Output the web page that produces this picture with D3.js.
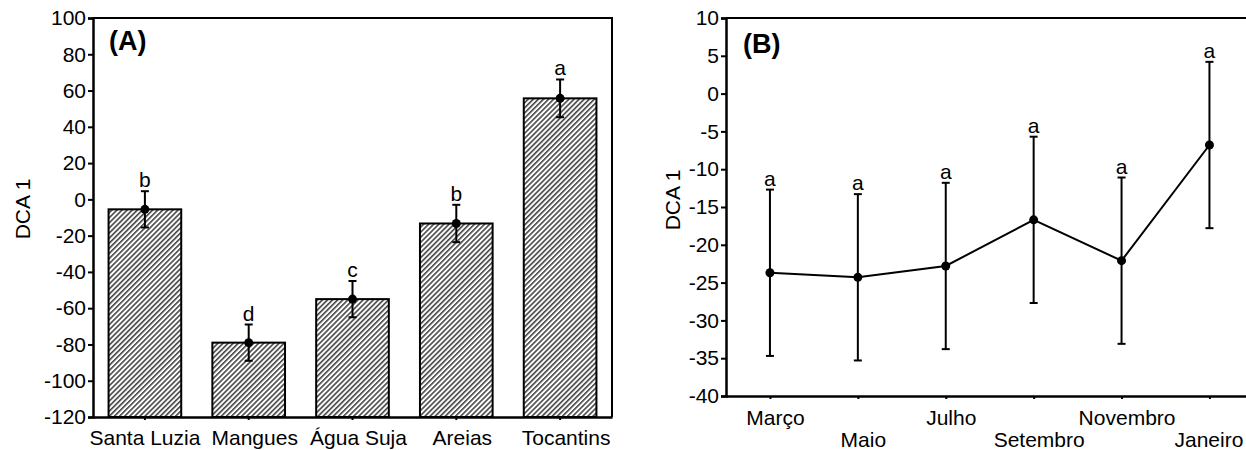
<!DOCTYPE html>
<html>
<head>
<meta charset="utf-8">
<script src="https://cdn.jsdelivr.net/npm/d3@7"></script>
<style>
  body { margin: 0; background: #fff; }
  svg { display: block; font-family: "Liberation Sans", Arial, sans-serif; }
</style>
</head>
<body>
<div id="chart"></div>
<script>
// Panel A data
const sitesA = ["Santa Luzia", "Mangues", "Água Suja", "Areias", "Tocantins"];
const meansA = [-5.5, -79, -55, -13.3, 55.7];
const errA = [10, 10, 10, 10.3, 10.4];
const lettersA = ["b", "d", "c", "b", "a"];
const ticksA = [-120, -100, -80, -60, -40, -20, 0, 20, 40, 60, 80, 100];

// Panel B data
const monthsB = ["Março", "Maio", "Julho", "Setembro", "Novembro", "Janeiro"];
const meansB = [-23.7, -24.3, -22.8, -16.7, -22.1, -6.8];
const errB = [11, 11, 11, 11, 11, 11];
const lettersB = ["a", "a", "a", "a", "a", "a"];
const ticksB = [-40, -35, -30, -25, -20, -15, -10, -5, 0, 5, 10];

const width = 1246, height = 450;
const fontSize = "21px";
const plainNum = d => String(d);   // keep a plain hyphen for negatives

const svg = d3.select("#chart").append("svg")
    .attr("width", width)
    .attr("height", height);

// hatch pattern for the bars
const defs = svg.append("defs");
defs.append("pattern")
    .attr("id", "hatch")
    .attr("patternUnits", "userSpaceOnUse")
    .attr("width", 3.6)
    .attr("height", 3.6)
    .attr("patternTransform", "rotate(45)")
    .call(p => {
        p.append("rect").attr("width", 3.6).attr("height", 3.6).attr("fill", "#fff");
        p.append("line")
            .attr("x1", 0).attr("y1", 0).attr("x2", 0).attr("y2", 3.6)
            .attr("stroke", "#444").attr("stroke-width", 3.2);
    });

// ---------- Panel A ----------
let a = {left: 93, right: 612, top: 18, bottom: 417};

let xA = d3.scaleBand()
    .domain(sitesA)
    .range([a.left, a.right])
    .paddingInner(0.3)
    .paddingOuter(0.15);

let yA = d3.scaleLinear()
    .domain([-120, 100])
    .range([a.bottom, a.top]);

let gA = svg.append("g");

// bars
gA.selectAll("rect.bar")
    .data(sitesA)
    .enter()
    .append("rect")
    .attr("class", "bar")
    .attr("x", d => xA(d))
    .attr("width", xA.bandwidth())
    .attr("y", (d, i) => yA(meansA[i]))
    .attr("height", (d, i) => yA(-120) - yA(meansA[i]))
    .attr("fill", "url(#hatch)")
    .attr("stroke", "#000")
    .attr("stroke-width", 2);

// error bars
let errGA = gA.selectAll("g.err")
    .data(sitesA)
    .enter()
    .append("g")
    .attr("class", "err")
    .attr("transform", d => "translate(" + (xA(d) + xA.bandwidth() / 2) + ",0)");

errGA.append("line")
    .attr("y1", (d, i) => yA(meansA[i] + errA[i]))
    .attr("y2", (d, i) => yA(meansA[i] - errA[i]))
    .attr("stroke", "#000").attr("stroke-width", 2);
errGA.append("line")
    .attr("x1", -4).attr("x2", 4)
    .attr("y1", (d, i) => yA(meansA[i] + errA[i]))
    .attr("y2", (d, i) => yA(meansA[i] + errA[i]))
    .attr("stroke", "#000").attr("stroke-width", 2);
errGA.append("line")
    .attr("x1", -4).attr("x2", 4)
    .attr("y1", (d, i) => yA(meansA[i] - errA[i]))
    .attr("y2", (d, i) => yA(meansA[i] - errA[i]))
    .attr("stroke", "#000").attr("stroke-width", 2);
errGA.append("circle")
    .attr("cy", (d, i) => yA(meansA[i]))
    .attr("r", 4.5)
    .attr("fill", "#000");
errGA.append("text")
    .attr("y", (d, i) => yA(meansA[i] + errA[i]) - 4)
    .attr("text-anchor", "middle")
    .style("font-size", fontSize)
    .text((d, i) => lettersA[i]);

// frame (top and right)
gA.append("path")
    .attr("d", "M" + a.left + "," + a.top + "H" + a.right + "V" + a.bottom)
    .attr("fill", "none").attr("stroke", "#000").attr("stroke-width", 2);

// axes
let yAxisA = gA.append("g")
    .attr("transform", "translate(" + a.left + ",0)")
    .call(d3.axisLeft(yA).tickValues(ticksA).tickFormat(plainNum).tickSize(5).tickPadding(2));
let xAxisA = gA.append("g")
    .attr("transform", "translate(0," + a.bottom + ")")
    .call(d3.axisBottom(xA).tickSize(3).tickPadding(6).tickSizeOuter(0));

[yAxisA, xAxisA].forEach(ax => {
    ax.select(".domain").attr("stroke-width", 2.5);
    ax.selectAll(".tick line").attr("stroke-width", 2);
    ax.selectAll("text").style("font-size", fontSize).attr("fill", "#000")
        .style("font-family", "'Liberation Sans', Arial, sans-serif");
});
xAxisA.selectAll("text")
    .attr("dy", "0.9em")
    .attr("dx", (d, i) => i === 0 ? "0px" : "6px");

gA.append("text")
    .attr("transform", "rotate(-90)")
    .attr("x", -209)
    .attr("y", 30)
    .attr("text-anchor", "middle")
    .style("font-size", "21px")
    .text("DCA 1");

gA.append("text")
    .attr("x", 109)
    .attr("y", 50)
    .style("font-size", "27px")
    .style("font-weight", "bold")
    .text("(A)");

// ---------- Panel B ----------
let b = {left: 726, right: 1253.4, top: 18, bottom: 396};

let xB = d3.scalePoint()
    .domain(monthsB)
    .range([b.left, b.right])
    .padding(0.5);

let yB = d3.scaleLinear()
    .domain([-40, 10])
    .range([b.bottom, b.top]);

let gB = svg.append("g");

gB.append("line")
    .attr("x1", b.left).attr("x2", b.right)
    .attr("y1", b.top).attr("y2", b.top)
    .attr("stroke", "#000").attr("stroke-width", 2);

// error bars
let errGB = gB.selectAll("g.err")
    .data(monthsB)
    .enter()
    .append("g")
    .attr("class", "err")
    .attr("transform", d => "translate(" + xB(d) + ",0)");

errGB.append("line")
    .attr("y1", (d, i) => yB(meansB[i] + errB[i]))
    .attr("y2", (d, i) => yB(meansB[i] - errB[i]))
    .attr("stroke", "#000").attr("stroke-width", 2);
errGB.append("line")
    .attr("x1", -4).attr("x2", 4)
    .attr("y1", (d, i) => yB(meansB[i] + errB[i]))
    .attr("y2", (d, i) => yB(meansB[i] + errB[i]))
    .attr("stroke", "#000").attr("stroke-width", 2);
errGB.append("line")
    .attr("x1", -4).attr("x2", 4)
    .attr("y1", (d, i) => yB(meansB[i] - errB[i]))
    .attr("y2", (d, i) => yB(meansB[i] - errB[i]))
    .attr("stroke", "#000").attr("stroke-width", 2);
errGB.append("text")
    .attr("y", (d, i) => yB(meansB[i] + errB[i]) - 4)
    .attr("text-anchor", "middle")
    .style("font-size", fontSize)
    .text((d, i) => lettersB[i]);

// mean line
let lineB = d3.line()
    .x((d, i) => xB(monthsB[i]))
    .y(d => yB(d));

gB.append("path")
    .datum(meansB)
    .attr("fill", "none")
    .attr("stroke", "#000")
    .attr("stroke-width", 2)
    .attr("d", lineB);

gB.selectAll("circle.pt")
    .data(meansB)
    .enter()
    .append("circle")
    .attr("class", "pt")
    .attr("cx", (d, i) => xB(monthsB[i]))
    .attr("cy", d => yB(d))
    .attr("r", 4.5)
    .attr("fill", "#000");

let yAxisB = gB.append("g")
    .attr("transform", "translate(" + b.left + ",0)")
    .call(d3.axisLeft(yB).tickValues(ticksB).tickFormat(plainNum).tickSize(5).tickPadding(2));
let xAxisB = gB.append("g")
    .attr("transform", "translate(0," + b.bottom + ")")
    .call(d3.axisBottom(xB).tickSize(3).tickPadding(6).tickSizeOuter(0));

[yAxisB, xAxisB].forEach(ax => {
    ax.select(".domain").attr("stroke-width", 2.5);
    ax.selectAll(".tick line").attr("stroke-width", 2);
    ax.selectAll("text").style("font-size", fontSize).attr("fill", "#000")
        .style("font-family", "'Liberation Sans', Arial, sans-serif");
});
// alternate rows of month labels; the last one kept inside the page
xAxisB.selectAll("text")
    .attr("y", 0)
    .attr("dx", (d, i) => i === monthsB.length - 1 ? "-1px" : "5px")
    .attr("dy", (d, i) => i % 2 === 0 ? "29px" : "51px");

gB.append("text")
    .attr("transform", "rotate(-90)")
    .attr("x", -200)
    .attr("y", 680)
    .attr("text-anchor", "middle")
    .style("font-size", "21px")
    .text("DCA 1");

gB.append("text")
    .attr("x", 743)
    .attr("y", 53)
    .style("font-size", "27px")
    .style("font-weight", "bold")
    .text("(B)");
</script>
</body>
</html>
